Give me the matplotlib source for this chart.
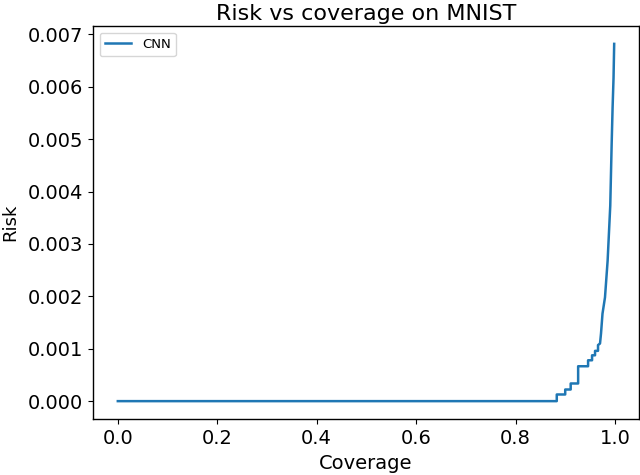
import matplotlib
matplotlib.use("Agg")
import matplotlib.pyplot as plt

# risk-coverage curve; repeated coverage values are the steps
coverage = [0.0, 0.883, 0.883, 0.900, 0.900, 0.911, 0.911, 0.926, 0.926, 0.946, 0.946,
            0.954, 0.954, 0.960, 0.960, 0.966, 0.966, 0.970, 0.972, 0.975, 0.980,
            0.9853, 0.9906, 0.9934, 0.9953, 0.9972, 0.9985]
risk = [0.0, 0.0, 0.000127, 0.000127, 0.000222, 0.000222, 0.000337, 0.000337, 0.000666,
        0.000666, 0.00078, 0.00078, 0.000875, 0.000875, 0.00096, 0.00096, 0.00107, 0.00110,
        0.00129, 0.00167, 0.00198, 0.00268, 0.00373, 0.0049, 0.0056, 0.00617, 0.00682]

fig = plt.figure(figsize=(6.4, 4.75), dpi=100)
ax = fig.add_axes([93 / 640, 56 / 475, 546 / 640, 393 / 475])

ax.plot(coverage, risk, color="#1f77b4", lw=1.8, label="CNN")

ax.set_title("Risk vs coverage on MNIST", fontsize=16, pad=4.5)
ax.set_xlabel("Coverage", fontsize=14)
ax.set_ylabel("Risk", fontsize=13)
ax.xaxis.set_label_coords(0.5, -0.09)
ax.yaxis.set_label_coords(-0.135, 0.5)
ax.tick_params(labelsize=14)
for s in ax.spines.values():
    s.set_linewidth(1.0)

ax.legend(loc="upper left", fontsize=9.5)

fig.savefig("out.png", dpi=100)
